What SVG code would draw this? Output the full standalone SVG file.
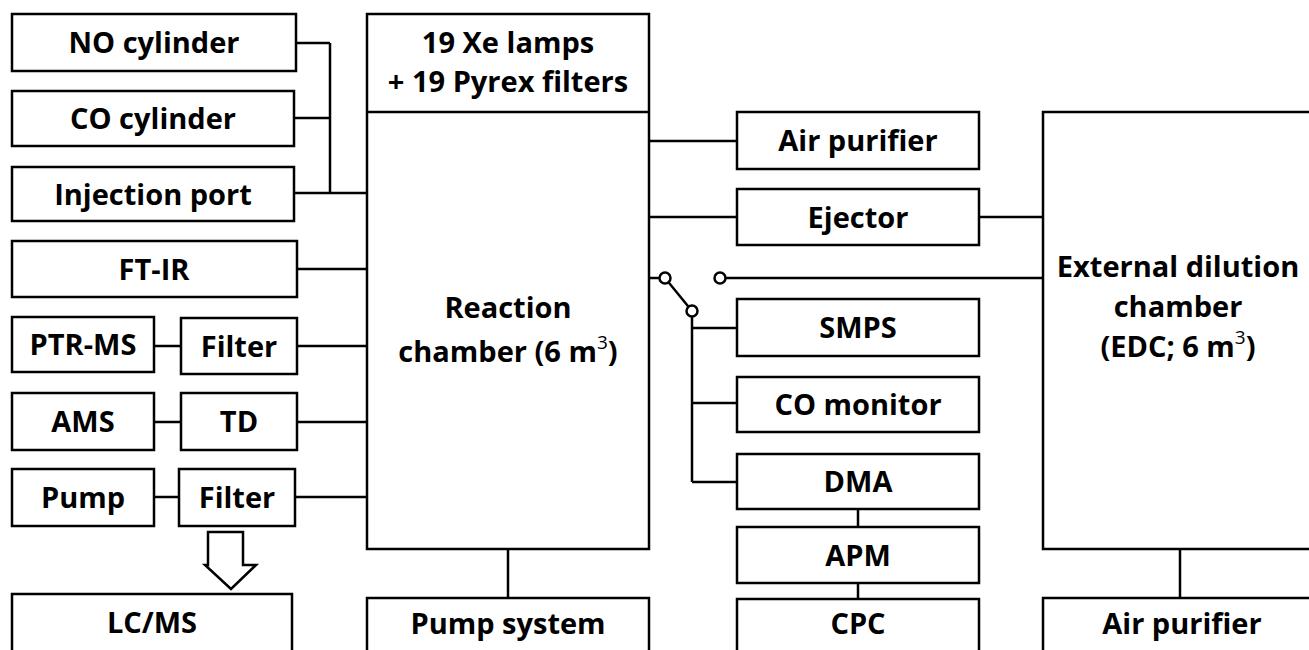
<svg xmlns="http://www.w3.org/2000/svg" width="1309" height="650" viewBox="0 0 1309 650">
<style>
.box{fill:#fff;stroke:#000;stroke-width:2.5}
.ln{fill:none;stroke:#000;stroke-width:2.5}
.t{font-family:"Open Sans","Liberation Sans",sans-serif;font-weight:700;font-size:29px;text-anchor:middle;fill:#000}
.sup{font-weight:400;font-size:19px}
.dot{fill:#fff;stroke:#000;stroke-width:2.5}
</style>
<rect width="1309" height="650" fill="#fff"/>
<g id="connectors">
<path class="ln" d="M296,43H330M294,118H330M330,43V193M294,193H367"/>
<path class="ln" d="M297,269H367"/>
<path class="ln" d="M154,346H181M297,346H367"/>
<path class="ln" d="M154,422H181M297,422H367"/>
<path class="ln" d="M154,497H179M295,497H367"/>
<polygon class="ln" points="208,532 243,532 243,565 256,565 231,589 205,565 208,565"/>
<path class="ln" d="M508,549V598"/>
<path class="ln" d="M649,141H737M649,217H737M979,217H1043"/>
<path class="ln" d="M649,278H660M668.5,282.3L688.5,306.7M725.5,278H1043"/>
<path class="ln" d="M692,316.5V482M692,328H737M692,403H737M692,482H737"/>
<path class="ln" d="M858,509V527M858,583V599"/>
<path class="ln" d="M1180,549V598"/>
<circle class="dot" cx="665" cy="278" r="5.5"/>
<circle class="dot" cx="692" cy="311" r="5.5"/>
<circle class="dot" cx="720" cy="278" r="5.5"/>
</g>
<g id="no-cylinder"><rect class="box" x="12" y="14" width="284" height="57"/><text class="t" x="154" y="53">NO cylinder</text></g>
<g id="co-cylinder"><rect class="box" x="12" y="91" width="282" height="55"/><text class="t" x="153" y="129">CO cylinder</text></g>
<g id="injection-port"><rect class="box" x="12" y="167" width="282" height="54"/><text class="t" x="153" y="205">Injection port</text></g>
<g id="ft-ir"><rect class="box" x="12" y="241" width="285" height="56"/><text class="t" x="154" y="280">FT-IR</text></g>
<g id="ptr-ms"><rect class="box" x="12" y="317" width="142" height="55"/><text class="t" x="83" y="355">PTR-MS</text></g>
<g id="filter1"><rect class="box" x="181" y="318" width="116" height="56"/><text class="t" x="239" y="357">Filter</text></g>
<g id="ams"><rect class="box" x="12" y="393" width="142" height="57"/><text class="t" x="83" y="432">AMS</text></g>
<g id="td"><rect class="box" x="181" y="393" width="116" height="57"/><text class="t" x="239" y="432">TD</text></g>
<g id="pump"><rect class="box" x="12" y="469" width="142" height="57"/><text class="t" x="83" y="508">Pump</text></g>
<g id="filter2"><rect class="box" x="179" y="469" width="116" height="57"/><text class="t" x="237" y="508">Filter</text></g>
<g id="lcms"><rect class="box" x="12" y="594" width="280" height="70"/><text class="t" x="152" y="633">LC/MS</text></g>
<g id="reaction-chamber"><rect class="box" x="367" y="14" width="282" height="535"/><path class="ln" d="M367,112H649"/>
<text class="t" x="508" y="53">19 Xe lamps</text><text class="t" x="508" y="92">+ 19 Pyrex filters</text>
<text class="t" x="508" y="318">Reaction</text><text class="t" x="508" y="362">chamber (6 m<tspan class="sup" baseline-shift="super">3</tspan>)</text></g>
<g id="pump-system"><rect class="box" x="367" y="598" width="282" height="70"/><text class="t" x="508" y="634">Pump system</text></g>
<g id="air-purifier1"><rect class="box" x="737" y="112" width="242" height="57"/><text class="t" x="858" y="151">Air purifier</text></g>
<g id="ejector"><rect class="box" x="737" y="189" width="242" height="56"/><text class="t" x="858" y="228">Ejector</text></g>
<g id="smps"><rect class="box" x="737" y="299" width="242" height="57"/><text class="t" x="858" y="338">SMPS</text></g>
<g id="co-monitor"><rect class="box" x="737" y="377" width="242" height="55"/><text class="t" x="858" y="415">CO monitor</text></g>
<g id="dma"><rect class="box" x="737" y="454" width="242" height="55"/><text class="t" x="858" y="492">DMA</text></g>
<g id="apm"><rect class="box" x="737" y="527" width="242" height="56"/><text class="t" x="858" y="566">APM</text></g>
<g id="cpc"><rect class="box" x="737" y="599" width="242" height="70"/><text class="t" x="858" y="634">CPC</text></g>
<g id="edc"><rect class="box" x="1043" y="112" width="275" height="437"/>
<text class="t" x="1178" y="277">External dilution</text><text class="t" x="1178" y="317">chamber</text><text class="t" x="1178" y="357">(EDC; 6 m<tspan class="sup" baseline-shift="super">3</tspan>)</text></g>
<g id="air-purifier2"><rect class="box" x="1043" y="598" width="275" height="70"/><text class="t" x="1182" y="634">Air purifier</text></g>
</svg>
